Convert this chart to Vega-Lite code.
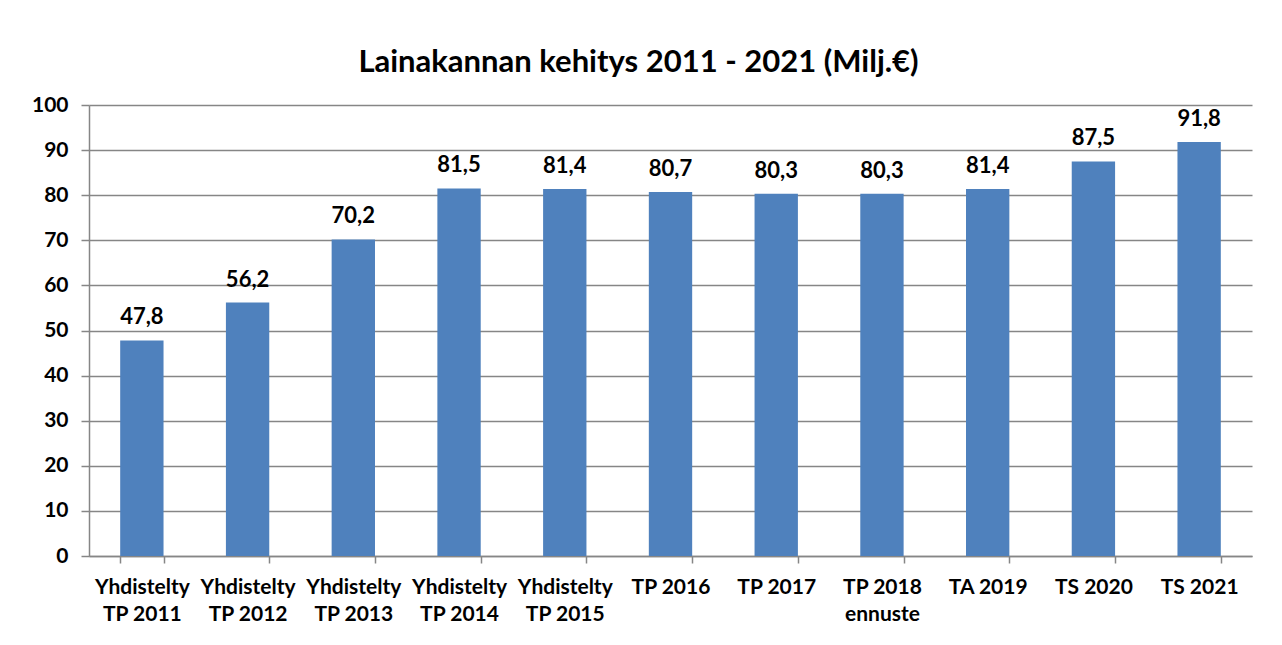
{
  "$schema": "https://vega.github.io/schema/vega-lite/v6.json",
  "width": 1163,
  "height": 451,
  "autosize": {"type": "none"},
  "padding": {"left": 89, "top": 105, "right": 30, "bottom": 89},
  "background": "white",
  "config": {
    "font": "Lato",
    "view": {"stroke": null},
    "locale": {"number": {"decimal": ",", "thousands": " ", "grouping": [3], "currency": ["", " €"]}}
  },
  "title": {
    "text": "Lainakannan kehitys 2011 - 2021 (Milj.€)",
    "font": "Lato",
    "fontSize": 31,
    "fontWeight": "bold",
    "color": "#000000",
    "anchor": "middle",
    "dx": -32,
    "offset": 15
  },
  "data": {
    "values": [
      {"kausi": "Yhdistelty|TP 2011", "milj": 47.8},
      {"kausi": "Yhdistelty|TP 2012", "milj": 56.2},
      {"kausi": "Yhdistelty|TP 2013", "milj": 70.2},
      {"kausi": "Yhdistelty|TP 2014", "milj": 81.5},
      {"kausi": "Yhdistelty|TP 2015", "milj": 81.4},
      {"kausi": "TP 2016", "milj": 80.7},
      {"kausi": "TP 2017", "milj": 80.3},
      {"kausi": "TP 2018|ennuste", "milj": 80.3},
      {"kausi": "TA 2019", "milj": 81.4},
      {"kausi": "TS 2020", "milj": 87.5},
      {"kausi": "TS 2021", "milj": 91.8}
    ]
  },
  "encoding": {
    "x": {
      "field": "kausi",
      "type": "nominal",
      "sort": null,
      "scale": {"paddingInner": 0.59, "paddingOuter": 0.295},
      "axis": {
        "title": null,
        "labelAngle": 0,
        "labelExpr": "split(datum.label, '|')",
        "labelFont": "Lato",
        "labelFontSize": 21,
        "labelFontWeight": "bold",
        "labelColor": "#000000",
        "labelLineHeight": 27,
        "labelPadding": 13,
        "tickBand": "extent",
        "tickSize": 7,
        "tickColor": "#868686",
        "tickWidth": 1.5,
        "domainColor": "#868686",
        "domainWidth": 1.5,
        "grid": false
      }
    },
    "y": {
      "field": "milj",
      "type": "quantitative",
      "scale": {"domain": [0, 100], "nice": false},
      "axis": {
        "title": null,
        "values": [0, 10, 20, 30, 40, 50, 60, 70, 80, 90, 100],
        "labelFont": "Lato",
        "labelFontSize": 21,
        "labelFontWeight": "bold",
        "labelColor": "#000000",
        "labelPadding": 13,
        "tickSize": 8,
        "tickColor": "#868686",
        "tickWidth": 1.5,
        "domainColor": "#868686",
        "domainWidth": 1.5,
        "gridColor": "#868686",
        "gridWidth": 1.5
      }
    }
  },
  "layer": [
    {"mark": {"type": "bar", "color": "#4F81BD"}},
    {
      "mark": {"type": "text", "dy": -23, "font": "Lato", "fontSize": 22, "fontWeight": "bold", "color": "#000000"},
      "encoding": {"text": {"field": "milj", "type": "quantitative", "format": ".1f"}}
    }
  ]
}
